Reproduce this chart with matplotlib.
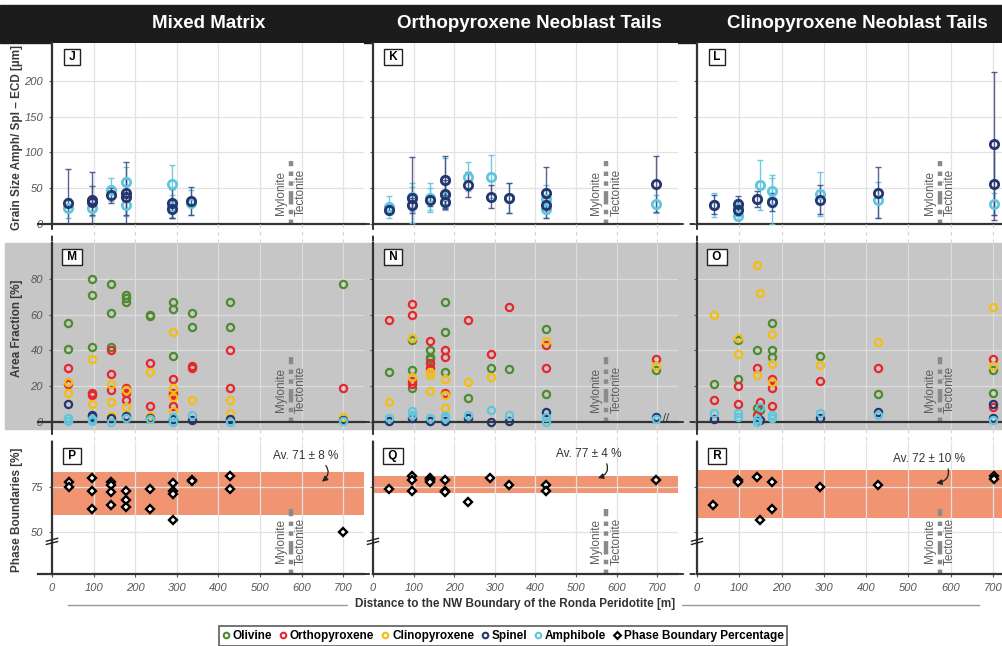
import matplotlib.pyplot as plt
import numpy as np
from matplotlib.lines import Line2D
from matplotlib.patches import Rectangle

plt.rcParams['font.family'] = ['Liberation Sans', 'DejaVu Sans']

# ---- data ----
TITLES = ["Mixed Matrix", "Orthopyroxene Neoblast Tails", "Clinopyroxene Neoblast Tails"]
LETTERS = [["J", "K", "L"], ["M", "N", "O"], ["P", "Q", "R"]]

# grain size (ECD, µm): x = distance [m], y = mean, err = 1 sd
J_SPL_X = [39, 97, 97, 141, 177, 177, 289, 289, 334]
J_SPL_Y = [29, 31, 33, 40, 43, 38, 29, 21, 32]
J_SPL_ERR = [48, 42, 20, 10, 44, 26, 20, 12, 20]
J_AMPH_X = [39, 97, 141, 177, 177, 289, 289, 334]
J_AMPH_Y = [23, 23, 48, 59, 27, 56, 24, 30]
J_AMPH_ERR = [14, 12, 16, 20, 16, 27, 16, 18]

K_SPL_X = [39, 97, 97, 140, 177, 177, 177, 235, 290, 335, 427, 427, 698]
K_SPL_Y = [20, 26, 36, 33, 61, 42, 31, 55, 38, 37, 44, 26, 56]
K_SPL_ERR = [6, 10, 57, 8, 34, 20, 10, 17, 16, 21, 36, 10, 39]
K_AMPH_X = [39, 97, 97, 140, 140, 177, 177, 177, 235, 290, 335, 427, 427, 698]
K_AMPH_Y = [24, 38, 27, 37, 35, 62, 41, 31, 66, 66, 37, 35, 21, 28]
K_AMPH_ERR = [15, 20, 25, 20, 15, 30, 15, 12, 20, 30, 21, 20, 12, 12]

L_SPL_X = [40, 97, 97, 141, 178, 291, 429, 702, 702]
L_SPL_Y = [27, 27.5, 20, 34.5, 31, 34, 44, 112, 56]
L_SPL_ERR = [13, 12, 8, 11, 13, 20, 36, 100, 50]
L_AMPH_X = [40, 97, 97, 148, 178, 178, 291, 429, 702]
L_AMPH_Y = [27, 23, 11, 55, 46, 32, 42, 34, 28]
L_AMPH_ERR = [17, 12, 6, 35, 22, 32, 31, 25, 15]

# area fraction [%]: (distance, value)
M_OL = [(39, 55), (39, 41), (97, 80), (97, 71), (97, 42), (141, 77), (141, 61), (141, 42),
        (177, 71), (177, 69), (177, 67), (236, 60), (236, 59), (291, 67), (291, 63), (291, 37),
        (337, 61), (337, 53), (427, 67), (427, 53), (700, 77)]
M_OPX = [(39, 30), (39, 21), (97, 16), (97, 15), (141, 40), (141, 27), (141, 18), (177, 19),
         (177, 16), (177, 12), (236, 33), (236, 9), (291, 24), (291, 16), (291, 15), (291, 9),
         (337, 31), (337, 30), (427, 40), (427, 19), (700, 19)]
M_CPX = [(39, 22), (39, 16), (97, 35), (97, 10), (141, 21), (141, 11), (141, 3), (177, 18),
         (177, 8.5), (236, 28), (236, 3), (291, 50), (291, 19), (291, 14), (291, 6), (337, 12),
         (427, 12), (427, 5), (700, 2.5)]
M_SPL = [(39, 10), (97, 4), (97, 3), (141, 2), (177, 3), (236, 2), (291, 1.5), (337, 1),
         (427, 1.5), (700, 1)]
M_AMPH = [(39, 2.2), (39, 0.4), (97, 1.5), (97, 0.3), (141, 0), (177, 1.9), (236, 1.5),
          (291, 2.8), (291, 0), (337, 3.7), (427, 0), (700, 0.4)]

N_OL = [(39, 28), (97, 46), (97, 29), (97, 19), (140, 40), (140, 36), (140, 35), (177, 67),
        (177, 50), (177, 28), (235, 13.5), (290, 30), (335, 29.5), (427, 52), (427, 15.5), (698, 29)]
N_OPX = [(39, 57), (97, 66), (97, 60), (97, 23), (97, 21), (140, 45), (140, 33), (140, 30),
         (177, 40), (177, 36), (177, 16), (235, 57), (290, 38), (335, 64), (427, 43), (427, 30), (698, 35)]
N_CPX = [(39, 11), (97, 47), (97, 25), (140, 28), (140, 26), (140, 17), (177, 24), (177, 15),
         (177, 8), (235, 22), (290, 25), (427, 45), (698, 31)]
N_SPL = [(39, 0.6), (97, 1.9), (140, 0.3), (177, 0.5), (235, 1.9), (290, 0), (335, 0.4),
         (427, 5.4), (698, 2.6)]
N_AMPH = [(39, 2.4), (97, 6), (97, 3.7), (140, 1.9), (177, 3.4), (177, 1.9), (235, 3.7),
          (290, 6.5), (335, 4.1), (427, 2.8), (427, 0), (698, 1.5)]

O_OL = [(40, 21), (97, 46), (97, 24), (141, 40), (141, 7.5), (149, 6.5), (178, 55), (178, 40),
        (178, 36), (291, 37), (429, 15.5), (701, 29), (701, 16)]
O_OPX = [(40, 12), (97, 20), (97, 10), (141, 30), (141, 3.7), (149, 11), (178, 24), (178, 19),
         (178, 9), (291, 23), (429, 30), (701, 35), (701, 8.4)]
O_CPX = [(40, 60), (97, 47), (97, 38), (141, 87.5), (141, 26), (149, 72), (178, 49), (178, 32.5),
         (178, 22), (291, 32), (429, 44.5), (701, 64), (701, 31)]
O_SPL = [(40, 1.5), (149, 0.9), (291, 2.2), (429, 5.6), (701, 10), (701, 2.2)]
O_AMPH = [(40, 5), (97, 5), (97, 2.8), (141, 1.5), (141, 0), (149, 8.4), (178, 4), (178, 2),
          (291, 4.7), (429, 3.7), (701, 0.9)]

# phase boundary percentage [%]
P_PB = [(40, 78), (40, 75), (97, 80), (97, 73), (97, 63), (141, 78), (141, 76), (141, 72),
        (141, 65), (178, 73), (178, 68), (178, 64), (236, 74), (236, 63), (290, 77), (290, 73),
        (290, 71), (290, 57), (336, 79), (336, 78.5), (428, 81), (428, 74), (699, 50)]
Q_PB = [(39, 74), (96, 81), (96, 79), (96, 73), (140, 80), (140, 79.4), (140, 78.7), (140, 78),
        (177, 79), (177, 73), (177, 72), (235, 67), (289, 80), (336, 76), (427, 76), (427, 73), (698, 79)]
R_PB = [(39, 65), (97, 79), (97, 78), (141, 80.4), (148, 57), (178, 78), (178, 63), (291, 75),
        (429, 76), (702, 81.3), (702, 79.4)]
PB_BANDS = [(59.5, 83.3), (71.8, 81.1), (57.8, 84.4)]
PB_LABELS = ["Av. 71 \u00b1 8 %", "Av. 77 \u00b1 4 %", "Av. 72 \u00b1 10 %"]
PB_TEXT_XY = [(610, 92.4), (531, 93.5), (549, 90.7)]
PB_ARROW_TIP = [(649, 78), (554, 80), (566, 77.2)]

MYLONITE_X = 575

# ---- style ----
OL, OPX, CPX, SPL, AMPH = '#4e8b30', '#e8262d', '#f4bd12', '#26356e', '#5ec6de'
W, H = 1003, 646
COL_PX = [(52, 364), (373, 677.5), (697, 1003)]
XMAX = [750, 750, 724]
ROW_PX = [(43, 224), (243, 429), (442, 574)]
YLIM = [(0, 253), (-4, 100), (26.8, 100)]
SPINE_Y = [224, 421.8, 574]

fig = plt.figure(figsize=(W / 100, H / 100), dpi=100)


def fx(px):
    return px / W


def fy(py):
    return 1 - py / H


# background bands
fig.add_artist(Rectangle((0, fy(43)), 1, fy(5) - fy(43), transform=fig.transFigure,
                         color='#1c1c1c', zorder=-1))
fig.add_artist(Rectangle((fx(5), fy(429)), 1, fy(243) - fy(429), transform=fig.transFigure,
                         color='#c6c6c6', zorder=-1))
for t, cx in zip(TITLES, [209, 529, 857]):
    fig.text(fx(cx), fy(24), t, color='white', fontsize=13.5, fontweight='bold', ha='center',
             va='center')

axes = []
for r, (top, bot) in enumerate(ROW_PX):
    row = []
    for c, (left, right) in enumerate(COL_PX):
        ax = fig.add_axes([fx(left), fy(bot), fx(right) - fx(left), fy(top) - fy(bot)])
        ax.set_xlim(0, XMAX[c])
        ax.set_ylim(*YLIM[r])
        ax.set_facecolor('none' if r == 1 else 'white')
        for s in ['top', 'right']:
            ax.spines[s].set_visible(False)
        for s in ['left', 'bottom']:
            ax.spines[s].set_color('#333333')
            ax.spines[s].set_linewidth(1.6)
        if r == 1:
            ax.spines['bottom'].set_position(('data', 0))
        ax.set_xticks(range(0, 800, 100))
        ax.set_yticks([[0, 50, 100, 150, 200], [0, 20, 40, 60, 80], [50, 75]][r])
        ax.grid(True, color='#dcdcdc' if r == 1 else '#e2e2e2', lw=0.9)
        ax.set_axisbelow(True)
        ax.tick_params(length=2.5, color='#555555', labelsize=8, labelcolor='#555555', pad=4)
        if c > 0:
            ax.tick_params(labelleft=False)
        if r < 2:
            ax.tick_params(labelbottom=False, bottom=False)
        for lab in ax.get_xticklabels() + ax.get_yticklabels():
            lab.set_fontstyle('italic')
        ax.annotate(f' {LETTERS[r][c]} ', xy=(0, 1), xycoords='axes fraction', xytext=(20, -14),
                    textcoords='offset pixels', ha='center', va='center', fontsize=8.5,
                    fontweight='bold', bbox=dict(boxstyle='square,pad=0.15', fc='white', ec='#222222', lw=1))
        row.append(ax)
    axes.append(row)

# mylonite / tectonite boundary
MYL_RANGE = [(0, 88), (0, 36), (26.8, 63)]
for r in range(3):
    for c in range(3):
        ax = axes[r][c]
        y0, y1 = MYL_RANGE[r]
        ax.plot([MYLONITE_X, MYLONITE_X], [y0, y1], color='#8a8a8a', lw=3.2,
                dashes=(1, 1.2, 1, 1.2, 3, 1.2), solid_capstyle='butt', zorder=2)
        ym = (y0 + y1) / 2
        ax.annotate('Mylonite', xy=(MYLONITE_X, ym), xytext=(-10, 0), textcoords='offset pixels',
                    rotation=90, ha='center', va='center', fontsize=8.5, color='#5e5e5e')
        ax.annotate('Tectonite', xy=(MYLONITE_X, ym), xytext=(10, 0), textcoords='offset pixels',
                    rotation=90, ha='center', va='center', fontsize=8.5, color='#5e5e5e')

# grain size row
grain = [(J_SPL_X, J_SPL_Y, J_SPL_ERR, J_AMPH_X, J_AMPH_Y, J_AMPH_ERR),
         (K_SPL_X, K_SPL_Y, K_SPL_ERR, K_AMPH_X, K_AMPH_Y, K_AMPH_ERR),
         (L_SPL_X, L_SPL_Y, L_SPL_ERR, L_AMPH_X, L_AMPH_Y, L_AMPH_ERR)]
for ax, (sx, sy, se, ax_, ay, ae) in zip(axes[0], grain):
    ax.errorbar(ax_, ay, yerr=ae, fmt='none', ecolor=AMPH, elinewidth=1, capsize=2, alpha=0.9, zorder=3)
    ax.errorbar(sx, sy, yerr=se, fmt='none', ecolor='#3d4680', elinewidth=1, capsize=2, alpha=0.85, zorder=3)
    ax.plot(ax_, ay, 'o', ms=6, mfc='none', mec=AMPH, mew=2, ls='none', zorder=4)
    ax.plot(sx, sy, 'o', ms=6, mfc='none', mec=SPL, mew=2, ls='none', zorder=5)

# area fraction row
area = [(M_OL, M_OPX, M_CPX, M_SPL, M_AMPH),
        (N_OL, N_OPX, N_CPX, N_SPL, N_AMPH),
        (O_OL, O_OPX, O_CPX, O_SPL, O_AMPH)]
for ax, series in zip(axes[1], area):
    for pts, col in zip(series, [OL, OPX, CPX, SPL, AMPH]):
        x, y = np.array(pts, dtype=float).T
        ax.plot(x, y, 'o', ms=5.2, mfc='none', mec=col, mew=1.6, ls='none', zorder=4, clip_on=False)
axes[1][1].text(722, 2, '//', fontsize=8, color='#333333', ha='center', va='center')

# phase boundary row
for i, (ax, pts) in enumerate(zip(axes[2], [P_PB, Q_PB, R_PB])):
    lo, hi = PB_BANDS[i]
    ax.axhspan(lo, hi, color='#f19472', lw=0, zorder=0.2)
    x, y = np.array(pts, dtype=float).T
    ax.plot(x, y, 'D', ms=4.2, mfc='white', mec='black', mew=1.7, ls='none', zorder=5)
    ax.annotate(PB_LABELS[i], xy=PB_ARROW_TIP[i], xytext=PB_TEXT_XY[i], ha='center', va='center',
                fontsize=8.5, color='#333333',
                arrowprops=dict(arrowstyle='-|>', color='#222222', lw=0.9, mutation_scale=8,
                                connectionstyle='arc3,rad=-0.6', relpos=(0.75, 0), shrinkA=1, shrinkB=0))
    # axis break marks
    tr = ax.get_yaxis_transform()
    for dy in (0, 1.8):
        ax.plot([-0.018, 0.018], [43.2 + dy, 44.8 + dy], color='#222222', lw=1, transform=tr,
                clip_on=False, zorder=6)

# connectors between panels
for r, ys in enumerate(SPINE_Y):
    fig.add_artist(Line2D([fx(38), fx(52)], [fy(ys)] * 2, color='#333333', lw=1.6))
    for c in range(2):
        fig.add_artist(Line2D([fx(COL_PX[c][1]), fx(COL_PX[c + 1][0])], [fy(ys)] * 2,
                              color='#333333', lw=1.4, ls=(0, (3, 3))))
for c, (left, right) in enumerate(COL_PX):
    scale = (right - left) / XMAX[c]
    for (ya, yb) in [(224, 243), (429, 442)]:
        fig.add_artist(Line2D([fx(left)] * 2, [fy(ya), fy(yb)], color='#333333', lw=1.4, ls=(0, (3, 3))))
        for xv in range(100, 800, 100):
            if xv <= XMAX[c]:
                px = left + xv * scale
                fig.add_artist(Line2D([fx(px)] * 2, [fy(ya), fy(yb)], color='#d8d8d8', lw=0.9,
                                      ls=(0, (3, 3))))

# y labels
for lab, cy in zip(["Grain Size Amph/ Spl \u2013 ECD [\u00b5m]", "Area Fraction [%]", "Phase Boundaries [%]"],
                   [137, 328, 510]):
    fig.text(fx(17), fy(cy), lab, rotation=90, ha='center', va='center', fontsize=8.5,
             fontweight='bold', color='#3a3a3a')

# x label with rule
fig.add_artist(Line2D([fx(68), fx(979)], [fy(605)] * 2, color='#9a9a9a', lw=1))
fig.text(fx(515), fy(604), "Distance to the NW Boundary of the Ronda Peridotite [m]", ha='center',
         va='center', fontsize=8.5, fontweight='bold', color='#333333',
         bbox=dict(boxstyle='square,pad=0.6', fc='white', ec='none'))

# legend
handles = [Line2D([], [], marker='o', ls='none', ms=4, mfc='none', mec=col, mew=1.5)
           for col in [OL, OPX, CPX, SPL, AMPH]]
handles.append(Line2D([], [], marker='D', ls='none', ms=3.5, mfc='white', mec='black', mew=1.5))
leg = fig.legend(handles, ["Olivine", "Orthopyroxene", "Clinopyroxene", "Spinel", "Amphibole",
                           "Phase Boundary Percentage"],
                 loc='center', bbox_to_anchor=(fx(503), fy(636)), ncol=6, fancybox=False,
                 edgecolor='#333333', prop=dict(size=8.5, weight='bold'), handlelength=0.6,
                 handletextpad=0.3, columnspacing=0.6, borderpad=0.3, borderaxespad=0)
leg.get_frame().set_linewidth(1.2)

fig.savefig('out.png', dpi=100)
